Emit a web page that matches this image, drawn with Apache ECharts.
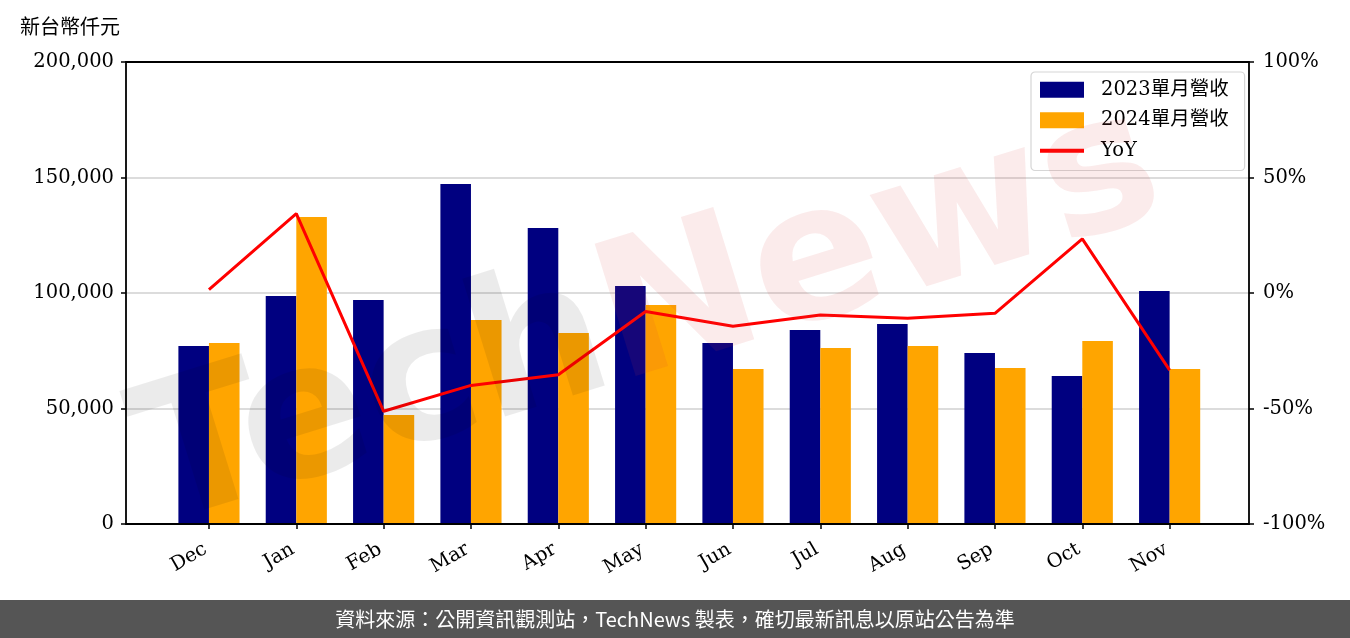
<!DOCTYPE html>
<html>
<head>
<meta charset="utf-8">
<script src="https://cdn.jsdelivr.net/npm/echarts@6/dist/echarts.min.js"></script>
<style>html,body{margin:0;padding:0;background:#fff}#c{width:1350px;height:638px}</style>
</head>
<body>
<div id="c"></div>
<script>
const months = ['Dec','Jan','Feb','Mar','Apr','May','Jun','Jul','Aug','Sep','Oct','Nov'];
const rev2023 = [77100, 98700, 97000, 147200, 128100, 103000, 78400, 84000, 86600, 74000, 64100, 100900];
const rev2024 = [78400, 132900, 47200, 88300, 82700, 94800, 67100, 76200, 77100, 67500, 79200, 67100];
const yoy = [1.5, 34.4, -51.2, -40.0, -35.4, -8.0, -14.4, -9.5, -10.9, -8.8, 23.4, -33.4];
const leftTicks = [0, 50000, 100000, 150000, 200000];
const rightTicks = [-100, -50, 0, 50, 100];
const seriesNames = ['2023單月營收', '2024單月營收', 'YoY'];

const SERIF = '"DejaVu Serif", "Noto Sans CJK TC", serif';
const fmtComma = v => String(v).replace(/\B(?=(\d{3})+(?!\d))/g, ',');

const chart = echarts.init(document.getElementById('c'), null, {renderer: 'canvas'});
const option = {
  animation: false,
  backgroundColor: '#fff',
  grid: [
    {left: 165.3, width: 1048, top: 62, height: 462, show: false},
    {left: 126, width: 1123, top: 62, height: 462, show: false}
  ],
  xAxis: [
    {type: 'category', gridIndex: 0, data: months, boundaryGap: true,
     axisLine: {show: false},
     axisTick: {show: true, alignWithLabel: true, length: 5, lineStyle: {color: '#000', width: 1.5}},
     axisLabel: {rotate: 30, fontFamily: SERIF, fontSize: 19.5, color: '#000', margin: 22, interval: 0,
       padding: [0, 4, 0, 0]}},
    {type: 'value', gridIndex: 1, min: 0, max: 1, show: false}
  ],
  yAxis: [
    {type: 'value', gridIndex: 1, position: 'left', min: leftTicks[0], max: leftTicks[leftTicks.length-1], interval: 50000,
     axisLine: {show: false},
     axisTick: {show: true, length: 5, lineStyle: {color: '#000', width: 1.5}},
     axisLabel: {formatter: v => fmtComma(v), fontFamily: SERIF, fontSize: 19.5, color: '#000', margin: 12},
     splitLine: {show: true, lineStyle: {color: '#d0d0d0', width: 1.5}}},
    {type: 'value', gridIndex: 1, position: 'right', min: rightTicks[0], max: rightTicks[rightTicks.length-1], interval: 50,
     axisLine: {show: false},
     axisTick: {show: true, length: 5, lineStyle: {color: '#000', width: 1.5}},
     axisLabel: {formatter: v => v + '%', fontFamily: SERIF, fontSize: 19.5, color: '#000', margin: 14},
     splitLine: {show: false}},
    {type: 'value', gridIndex: 0, min: 0, max: 200000, show: false},
    {type: 'value', gridIndex: 0, min: -100, max: 100, show: false}
  ],
  legend: {
    left: 1031, top: 72, orient: 'vertical',
    backgroundColor: '#fff', borderColor: '#d6d6d6', borderWidth: 1.2, borderRadius: 4,
    padding: [8, 16, 10, 7], itemGap: 11, itemWidth: 44, itemHeight: 16,
    textStyle: {fontFamily: SERIF, fontSize: 19.5, color: '#000', padding: [0, 0, 0, 12]},
    data: [
      {name: seriesNames[0], icon: 'rect'},
      {name: seriesNames[1], icon: 'rect'},
      {name: seriesNames[2], lineStyle: {width: 4, color: '#ff0000'},
       itemStyle: {color: 'rgba(0,0,0,0)', borderColor: 'rgba(0,0,0,0)', borderWidth: 0}}
    ]
  },
  series: [
    {name: seriesNames[0], type: 'bar', xAxisIndex: 0, yAxisIndex: 2, data: rev2023,
     barWidth: 30.57, barGap: '0%', itemStyle: {color: '#000080'}},
    {name: seriesNames[1], type: 'bar', xAxisIndex: 0, yAxisIndex: 2, data: rev2024,
     barWidth: 30.57, barGap: '0%', itemStyle: {color: '#FFA500'}},
    {name: seriesNames[2], type: 'line', xAxisIndex: 0, yAxisIndex: 3, data: yoy,
     symbol: 'none', lineStyle: {color: '#ff0000', width: 3}, z: 5}
  ],
  graphic: [
    {type: 'text', left: 20, top: 16, style: {text: '新台幣仟元', font: '20px "Noto Sans CJK TC"', fill: '#000'}},
    {type: 'text', x: 650, y: 320, rotation: 0.3, z: 100, silent: true,
     style: {text: '{a|Tech}{b|News}', align: 'center', verticalAlign: 'middle',
       rich: {
         a: {font: 'bold 190px "DejaVu Sans"', fill: 'rgba(0,0,0,0.08)'},
         b: {font: 'bold 190px "DejaVu Sans"', fill: 'rgba(220,60,60,0.1)'}
       }}},
    {type: 'rect', z: 60, silent: true, shape: {x: 126, y: 62, width: 1123, height: 462},
     style: {fill: 'none', stroke: '#000', lineWidth: 1.8}},
    {type: 'rect', left: 0, top: 600, z: 50, shape: {width: 1350, height: 38}, style: {fill: '#555555'}},
    {type: 'text', x: 675, y: 619, z: 51, style: {text: '資料來源：公開資訊觀測站，TechNews 製表，確切最新訊息以原站公告為準', font: '20px "Noto Sans CJK TC"', fill: '#fff', align: 'center', verticalAlign: 'middle'}}
  ]
};
chart.setOption(option);
</script>
</body>
</html>
